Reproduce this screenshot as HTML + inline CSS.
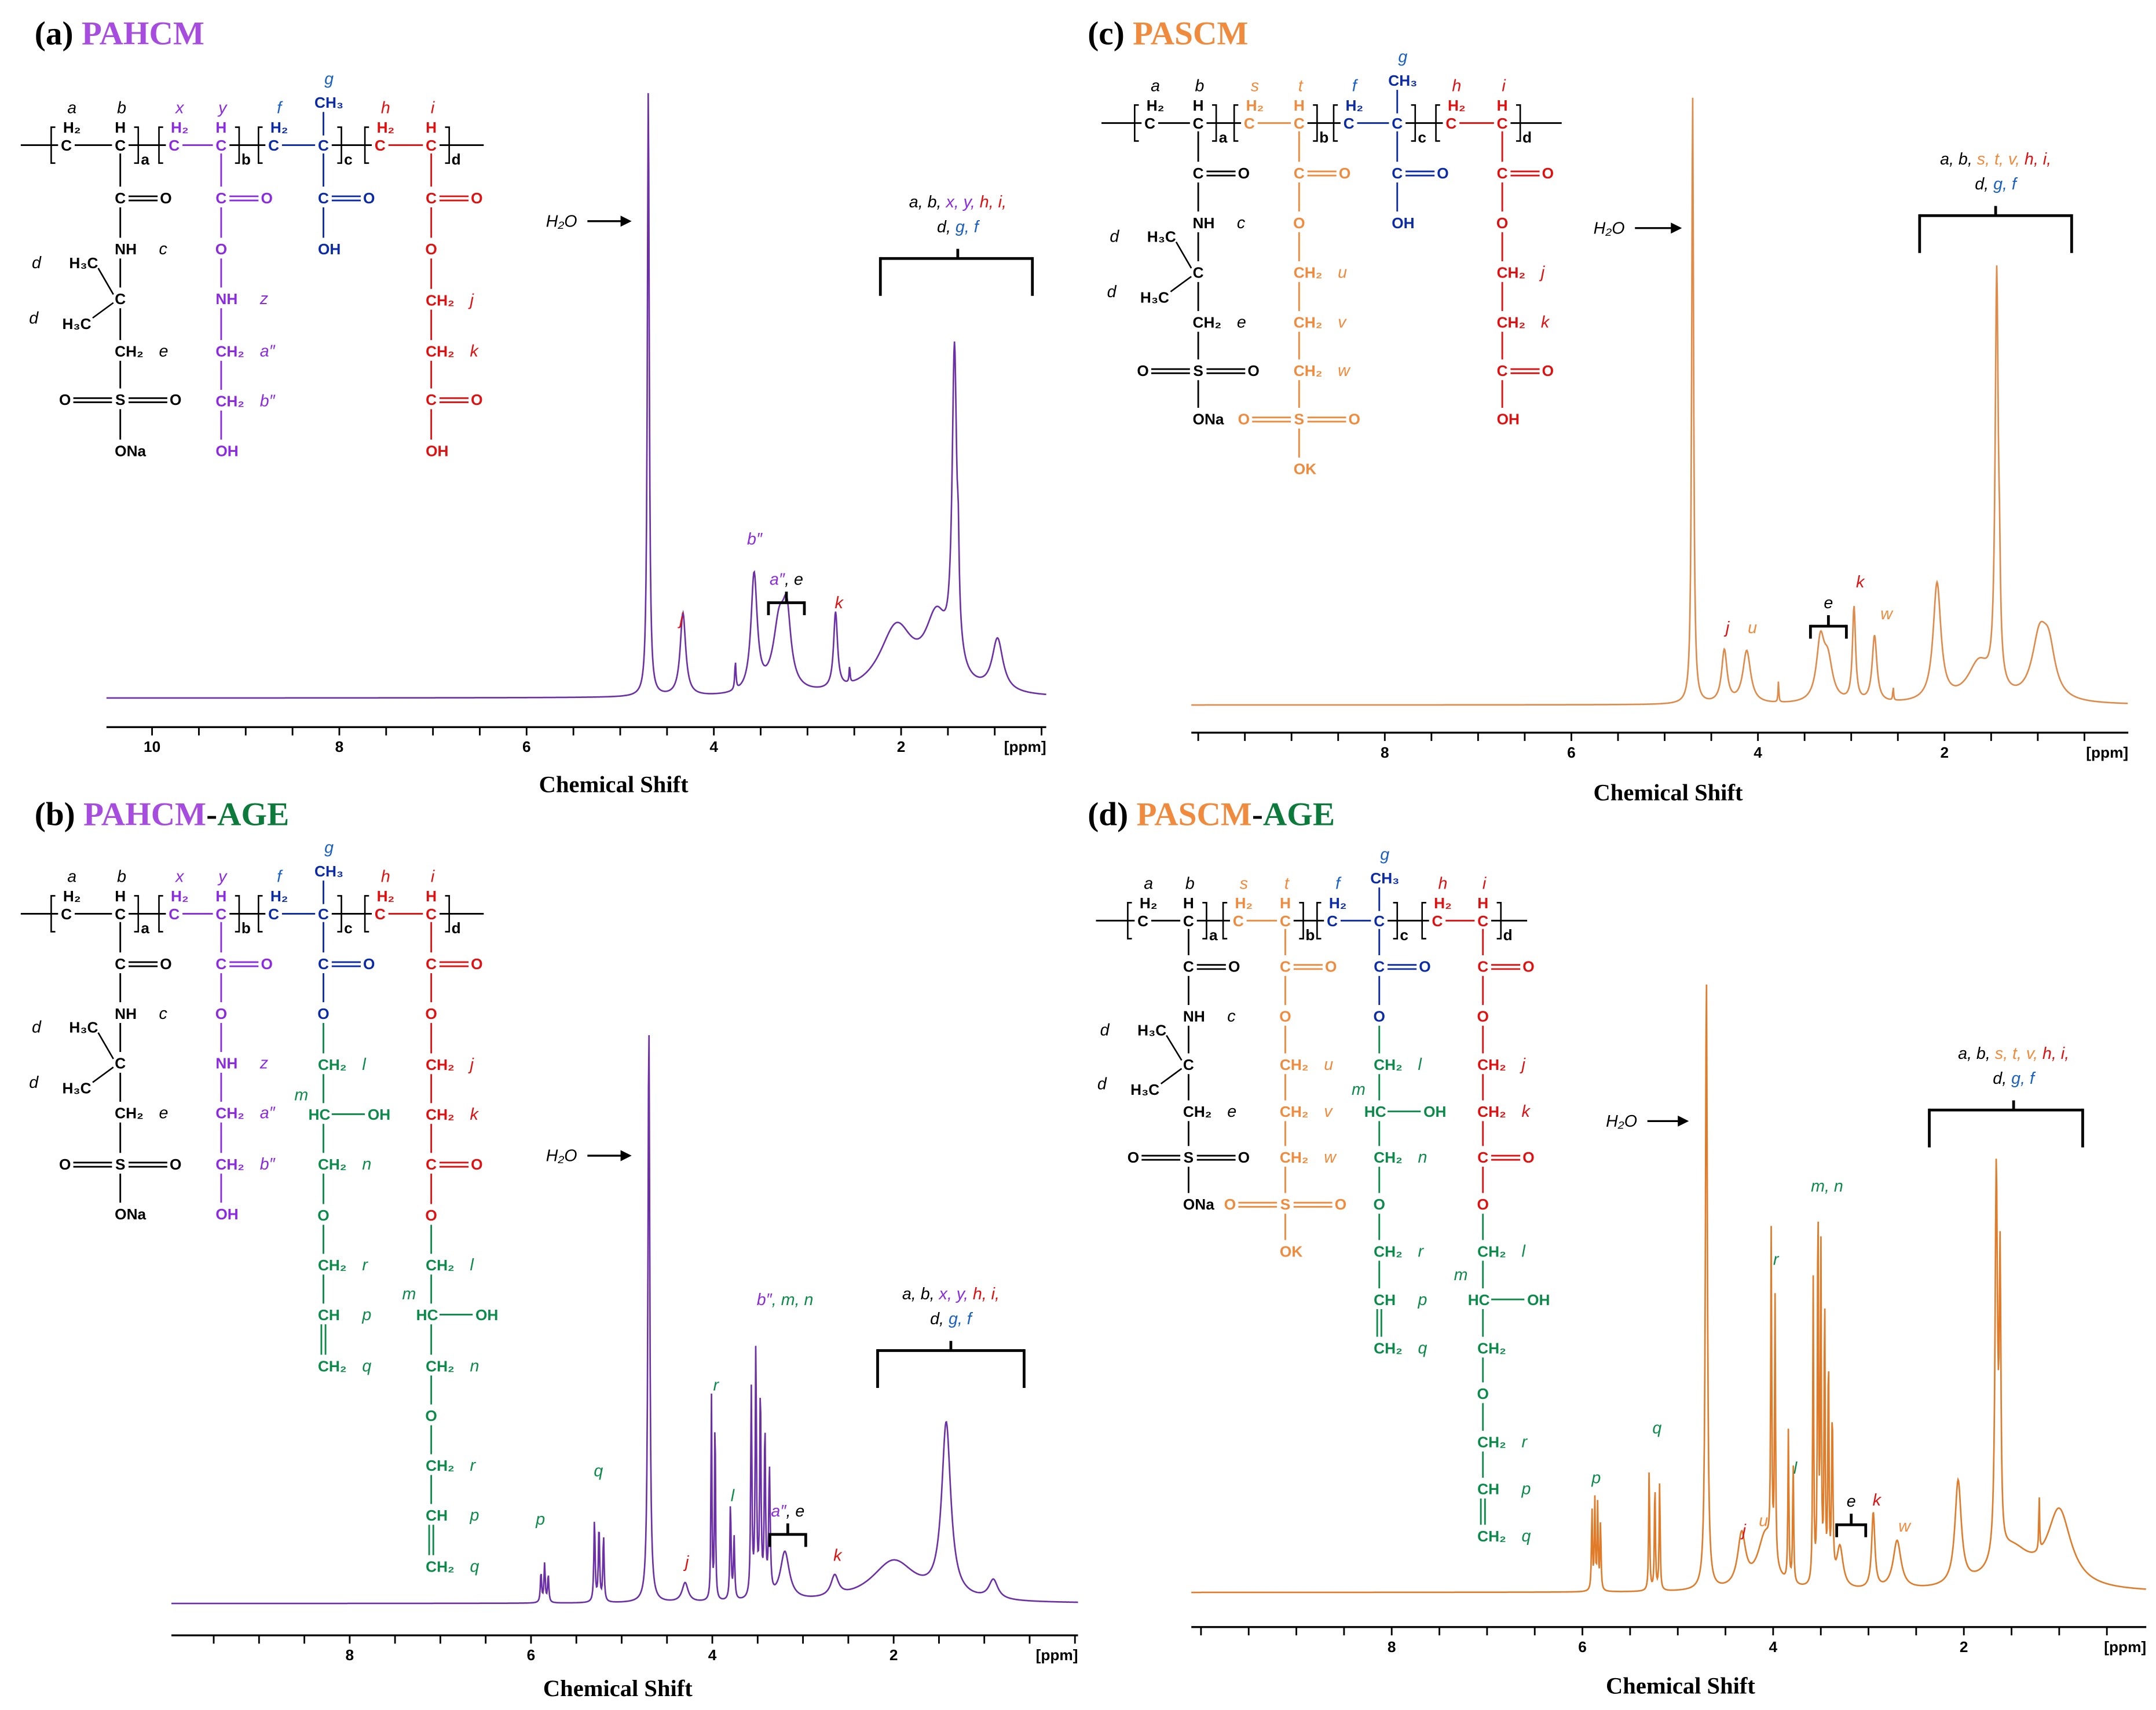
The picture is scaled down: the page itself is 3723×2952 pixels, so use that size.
<!DOCTYPE html>
<html><head><meta charset="utf-8"><style>
html,body{margin:0;padding:0;background:#fff;}
svg{display:block;}
.st{font-family:"Liberation Sans",sans-serif;font-size:11px;font-weight:bold;}
.lb{font-family:"Liberation Sans",sans-serif;font-size:12px;font-style:italic;}
.tk{font-family:"Liberation Sans",sans-serif;font-size:11px;font-weight:bold;}
.ttl{font-family:"Liberation Serif",serif;font-size:24px;font-weight:bold;}
.ax{font-family:"Liberation Serif",serif;font-size:17px;font-weight:bold;}
</style></head><body>
<svg id="fig" width="3723" height="2952" viewBox="0 0 1560 1237" xmlns="http://www.w3.org/2000/svg">
<rect width="1560" height="1237" fill="#fff"/>
<text class="ttl" x="25" y="32">(a) <tspan fill="#a64de0">PAHCM</tspan></text>
<text class="ttl" x="25" y="597">(b) <tspan fill="#a64de0">PAHCM</tspan>-<tspan fill="#0b7a3a">AGE</tspan></text>
<text class="ttl" x="787" y="32">(c) <tspan fill="#f08a3c">PASCM</tspan></text>
<text class="ttl" x="787" y="597">(d) <tspan fill="#f08a3c">PASCM</tspan>-<tspan fill="#0b7a3a">AGE</tspan></text>
</svg>
<script>
const NS="http://www.w3.org/2000/svg";
const svg=document.getElementById('fig');
function mk(tag,attrs,parent){const e=document.createElementNS(NS,tag);for(const k in attrs)e.setAttribute(k,attrs[k]);(parent||svg).appendChild(e);return e;}
function txt(x,y,s,cls,fill,anchor,parent){const t=mk('text',{x:x,y:y,class:cls,fill:fill||'#000','text-anchor':anchor||'middle'},parent);t.textContent=s;return t;}
function ln(x1,y1,x2,y2,c,parent,w){return mk('line',{x1:x1,y1:y1,x2:x2,y2:y2,stroke:c,'stroke-width':w||1.2},parent);}

// ===== Spectrum data (ppm centres, intensities, half-widths in ppm) =====
const aPpm=[4.70,4.33,3.77,3.57,3.30,3.22,2.70,2.55,2.05,1.62,1.43,1.39,0.97];
const aInt=[440,60,20,85,50,45,55,12,48,50,230,40,38];
const aWid=[0.012,0.035,0.008,0.04,0.08,0.05,0.025,0.006,0.22,0.15,0.03,0.01,0.07];
const bPpm=[5.89,5.85,5.81,5.30,5.25,5.20,4.70,4.30,4.01,3.97,3.80,3.76,3.57,3.52,3.47,3.42,3.37,3.20,2.65,2.0,1.42,0.9];
const bInt=[22,28,20,60,55,48,420,14,150,140,70,45,150,180,150,120,90,35,15,30,125,14];
const bWid=[0.008,0.008,0.008,0.008,0.008,0.008,0.012,0.04,0.006,0.006,0.008,0.008,0.008,0.008,0.008,0.008,0.01,0.06,0.05,0.3,0.06,0.06];
const cPpm=[4.70,4.36,4.12,3.78,3.33,3.25,2.97,2.75,2.55,2.08,1.63,1.44,1.41,0.98,0.88];
const cInt=[440,38,38,15,42,28,68,48,10,85,28,300,40,45,30];
const cWid=[0.012,0.035,0.05,0.005,0.05,0.06,0.02,0.03,0.005,0.05,0.15,0.02,0.01,0.1,0.08];
const dPpm=[5.90,5.87,5.84,5.81,5.30,5.24,5.19,4.70,4.33,4.08,4.02,3.98,3.84,3.79,3.58,3.53,3.50,3.46,3.42,3.38,3.30,2.95,2.70,2.06,1.5,1.66,1.62,1.21,1.0];
const dInt=[60,65,62,50,90,80,80,444,38,40,230,190,110,90,220,290,250,210,170,120,30,55,35,75,28,280,200,40,55];
const dWid=[0.006,0.006,0.006,0.006,0.006,0.006,0.006,0.012,0.05,0.1,0.006,0.006,0.006,0.006,0.006,0.006,0.006,0.006,0.006,0.008,0.04,0.02,0.05,0.04,0.25,0.015,0.01,0.005,0.15];
// axis tick labels
const tickLabelsA=['10','8','6','4','2'];
const tickLabelsB=['8','6','4','2'];

function panelAxis(g,xOf,y,ppmL,ppmR,labels,px0,px1){
  ln(px0,y,px1,y,'#000',g,1.4);
  for(let p=Math.floor(ppmL*2)/2;p>=ppmR;p-=0.5){const x=xOf(p);if(x<px0||x>px1)continue;ln(x,y,x,y+6,'#000',g,1.2);}
  labels.forEach(s=>{const t=txt(xOf(+s),y+18,s,'tk','#000','middle',g);});
  const u=txt(px1,y+18,'[ppm]','tk','#000','end',g);
  
}
function spectrum(g,xOf,ppmOf,base,px0,px1,P,I,W,color,name){
  let d='';
  for(let x=px0;x<=px1;x+=0.4){const p=ppmOf(x);let v=0;for(let i=0;i<P.length;i++){const z=(p-P[i])/W[i];v+=I[i]/(1+z*z);}d+=(d?'L':'M')+x.toFixed(2)+' '+(base-v).toFixed(2);}
  const path=mk('path',{d:d,fill:'none',stroke:color,'stroke-width':1.1},g);
  
  
}
function bigBracket(g,cx,x0,x1,y,l1,l2){
  ln(x0,y,x1,y,'#000',g,2);ln(x0,y-1,x0,y+27,'#000',g,2);ln(x1,y-1,x1,y+27,'#000',g,2);ln(cx,y,cx,y-7,'#000',g,2);
  const t1=mk('text',{x:cx,y:y-37,class:'lb','text-anchor':'middle'},g);t1.innerHTML=l1;
  const t2=mk('text',{x:cx,y:y-19,class:'lb','text-anchor':'middle'},g);t2.innerHTML=l2;
}
function smallBracket(g,x0,x1,y,lab){
  ln(x0,y,x1,y,'#000',g,2);ln(x0,y-1,x0,y+9,'#000',g,2);ln(x1,y-1,x1,y+9,'#000',g,2);ln((x0+x1)/2,y,(x0+x1)/2,y-8,'#000',g,2);
  const t=mk('text',{x:(x0+x1)/2,y:y-13,class:'lb','text-anchor':'middle'},g);t.innerHTML=lab;
}
function h2o(g,x,y,x2){txt(x,y,'H₂O','lb','#000','start',g).setAttribute('font-style','normal');ln(x+30,y-4,x2-5,y-4,'#000',g,1.4);mk('path',{d:`M${x2} ${y-4} L${x2-8} ${y-8} L${x2-8} ${y} Z`,fill:'#000'},g);}
function plab(g,x,y,s,c){const t=mk('text',{x:x,y:y,class:'lb',fill:c,'text-anchor':'middle'},g);t.innerHTML=s;}

const PU='#8a2be2',OR='#f08a3c',BL='#1a5fc4',RD='#e01010',GR='#0b8a4a';

// ===== Panel A =====
const gA=mk('g',{});
{const xOf=p=>110+(10-p)*67.75, ppmOf=x=>10-(x-110)/67.75;
 spectrum(gA,xOf,ppmOf,505,77,757,aPpm,aInt,aWid,'#6b2fa8','spectrum-line-a');
 panelAxis(gA,xOf,526,10.5,0.4,tickLabelsA,77,757);
 txt(444,573,'Chemical Shift','ax','#000','middle',gA);
 h2o(gA,395,164,457);
 bigBracket(gA,693,637,747,187,'a, b, <tspan fill="'+PU+'">x, y,</tspan> <tspan fill="'+RD+'">h, i,</tspan>','d, <tspan fill="'+BL+'">g, f</tspan>');
 smallBracket(gA,556,582,436,'<tspan fill="'+PU+'">a″</tspan>, e');
 plab(gA,493,452,'j',RD);plab(gA,546,394,'b″',PU);plab(gA,607,440,'k',RD);}
// ===== Panel B =====
const gB=mk('g',{});
{const xOf=p=>253+(8-p)*65.6, ppmOf=x=>8-(x-253)/65.6;
 spectrum(gB,xOf,ppmOf,1160,124,780,bPpm,bInt,bWid,'#6b2fa8','spectrum-line-b');
 panelAxis(gB,xOf,1183,10,0,tickLabelsB,124,780);
 txt(447,1227,'Chemical Shift','ax','#000','middle',gB);
 h2o(gB,395,840,457);
 bigBracket(gB,688,635,741,977,'a, b, <tspan fill="'+PU+'">x, y,</tspan> <tspan fill="'+RD+'">h, i,</tspan>','d, <tspan fill="'+BL+'">g, f</tspan>');
 smallBracket(gB,557,583,1110,'<tspan fill="'+PU+'">a″</tspan>, e');
 plab(gB,391,1103,'p',GR);plab(gB,433,1068,'q',GR);plab(gB,497,1134,'j',RD);plab(gB,518,1006,'r',GR);plab(gB,530,1086,'l',GR);
 plab(gB,568,944,'<tspan fill="'+PU+'">b″</tspan><tspan fill="'+GR+'">, m, n</tspan>','#000');plab(gB,606,1129,'k',RD);}
// ===== Panel C =====
const gC=mk('g',{});
{const xOf=p=>1002+(8-p)*67.5, ppmOf=x=>8-(x-1002)/67.5;
 spectrum(gC,xOf,ppmOf,510,862,1540,cPpm,cInt,cWid,'#e08a4a','spectrum-line-c');
 panelAxis(gC,xOf,530,10,0,tickLabelsB,862,1540);
 txt(1207,579,'Chemical Shift','ax','#000','middle',gC);
 h2o(gC,1153,169,1217);
 bigBracket(gC,1444,1389,1499,156,'a, b, <tspan fill="'+OR+'">s, t, v,</tspan> <tspan fill="'+RD+'">h, i,</tspan>','d, <tspan fill="'+BL+'">g, f</tspan>');
 smallBracket(gC,1310,1336,453,'e');
 plab(gC,1250,458,'j',RD);plab(gC,1268,458,'u',OR);plab(gC,1346,425,'k',RD);plab(gC,1365,448,'w',OR);}
// ===== Panel D =====
const gD=mk('g',{});
{const xOf=p=>1007+(8-p)*69, ppmOf=x=>8-(x-1007)/69;
 spectrum(gD,xOf,ppmOf,1152,862,1553,dPpm,dInt,dWid,'#e07b2a','spectrum-line-d');
 panelAxis(gD,xOf,1177,10,0,tickLabelsB,862,1553);
 txt(1216,1225,'Chemical Shift','ax','#000','middle',gD);
 h2o(gD,1162,815,1222);
 bigBracket(gD,1457,1396,1507,803,'a, b, <tspan fill="'+OR+'">s, t, v,</tspan> <tspan fill="'+RD+'">h, i,</tspan>','d, <tspan fill="'+BL+'">g, f</tspan>');
 smallBracket(gD,1329,1350,1103,'e');
 plab(gD,1155,1073,'p',GR);plab(gD,1199,1037,'q',GR);plab(gD,1262,1111,'j',RD);plab(gD,1276,1104,'u',OR);plab(gD,1285,915,'r',GR);
 plab(gD,1299,1066,'l',GR);plab(gD,1322,862,'m, n',GR);plab(gD,1358,1089,'k',RD);plab(gD,1378,1108,'w',OR);}

// ===== Chemical structures =====
function row(g,x,y,kind,c,lab,lc){
  switch(kind){
   case 'C=O': txt(x,y+4,'C','st',c,'middle',g);ln(x+6,y-1,x+27,y-1,c,g);ln(x+6,y+2,x+27,y+2,c,g);txt(x+33,y+4,'O','st',c,'middle',g);break;
   case 'OSO': txt(x-40,y+4,'O','st',c,'middle',g);ln(x-34,y-1,x-6,y-1,c,g);ln(x-34,y+2,x-6,y+2,c,g);txt(x,y+4,'S','st',c,'middle',g);ln(x+6,y-1,x+34,y-1,c,g);ln(x+6,y+2,x+34,y+2,c,g);txt(x+40,y+4,'O','st',c,'middle',g);break;
   case 'HCOH': txt(x+5,y+4,'HC','st',c,'end',g);ln(x+6,y,x+30,y,c,g);txt(x+32,y+4,'OH','st',c,'start',g);break;
   case 'CH2': case 'CH2q': txt(x-4,y+4,'CH₂','st',c,'start',g);break;
   case 'CH': txt(x-4,y+4,'CH','st',c,'start',g);break;
   case 'NH': txt(x-4,y+4,'NH','st',c,'start',g);break;
   case 'ONa': txt(x-4,y+4,'ONa','st',c,'start',g);break;
   case 'OH': txt(x-4,y+4,'OH','st',c,'start',g);break;
   case 'OK': txt(x-4,y+4,'OK','st',c,'start',g);break;
   default: txt(x,y+4,kind,'st',c,'middle',g);
  }
  if(lab){const lx=kind==='C=O'?x+52:x+28;txt(lx,y+4,lab,'lb',lc||c,'start',g);}
}
function struct(name,S){
  const g=mk('g',{});
  const by=S.by;
  // backbone segments between atoms (gaps around letters)
  let prev=S.x0;
  S.units.forEach(u=>{
    ln(prev,by,u.xa-6,by,'#000',g,1.2);
    ln(u.xa+6,by,u.xb-6,by,u.c,g,1.2);
    prev=u.xb+6;
  });
  ln(prev,by,S.x1,by,'#000',g,1.2);
  S.units.forEach(u=>{
    txt(u.xa,by+4,'C','st',u.c,'middle',g);txt(u.xb,by+4,'C','st',u.c,'middle',g);
    txt(u.xa+4,by-9,'H₂','st',u.c,'middle',g);
    if(u.ch3){ln(u.xb,by-7,u.xb,by-24,u.c,g);txt(u.xb+4,by-27,'CH₃','st',u.c,'middle',g);txt(u.xb+4,by-44,u.lb,'lb',u.lc,'middle',g);}
    else{txt(u.xb,by-9,'H','st',u.c,'middle',g);txt(u.xb+1,by-23,u.lb,'lb',u.lc,'middle',g);}
    txt(u.xa+4,by-23,u.la,'lb',u.lc,'middle',g);
    const L=u.xa-11,R=u.xb+13;
    mk('path',{d:`M${L+3} ${by-13}H${L}V${by+13}H${L+3}`,fill:'none',stroke:'#000','stroke-width':1.1},g);
    mk('path',{d:`M${R-3} ${by-13}H${R}V${by+13}H${R-3}`,fill:'none',stroke:'#000','stroke-width':1.1},g);
    txt(R+5,by+14,u.sub,'st','#000','middle',g);
  });
  S.cols.forEach(col=>{
    let py=by;
    col.rows.forEach((r,i)=>{
      const [y,kind,c,lab,lc]=r;
      const top=py+(i===0?6:7), bot=y-8;
      if(kind==='CH2q'){ln(col.x-1.5,top,col.x-1.5,bot,c,g);ln(col.x+1.5,top,col.x+1.5,bot,c,g);}
      else ln(col.x,top,col.x,bot,c,g);
      row(g,col.x,y,kind,c,lab,lc);py=y;
    });
  });
  (S.extra||[]).forEach(e=>{ if(e[0]==='line')ln(e[1],e[2],e[3],e[4],e[5]||'#000',g,1.1); else txt(e[1],e[2],e[3],e[4],e[5],e[6]||'start',g);});
}
const K='#000',BD='#0a2aa8',P2='#8a2be2';
function blackCol(x,r){return {x:x,rows:[[r[0],'C=O',K],[r[1],'NH',K,'c'],[r[2],'C',K],[r[3],'CH2',K,'e'],[r[4],'OSO',K],[r[5],'ONa',K]]};}
function methyls(x,yN,yC,yE){return [['t',x-37,yN+14,'H₃C','st',K],['t',x-64,yN+14,'d','lb',K],['t',x-42,yC+22,'H₃C','st',K],['t',x-66,yC+18,'d','lb',K],['line',x-16,yN+14,x-5,yC-3],['line',x-20,yC+14,x-5,yC+3]];}
// A
struct('structure-a',{by:105,x0:15,x1:350,units:[
 {xa:48,xb:87,c:K,lc:K,la:'a',lb:'b',sub:'a'},{xa:126,xb:160,c:P2,lc:P2,la:'x',lb:'y',sub:'b'},
 {xa:198,xb:234,c:BD,lc:BL,la:'f',lb:'g',sub:'c',ch3:1},{xa:275,xb:312,c:RD,lc:RD,la:'h',lb:'i',sub:'d'}],
 cols:[blackCol(87,[143,180,216,254,289,326]),
  {x:160,rows:[[143,'C=O',P2],[180,'O',P2],[216,'NH',P2,'z'],[254,'CH2',P2,'a″'],[290,'CH2',P2,'b″'],[326,'OH',P2]]},
  {x:234,rows:[[143,'C=O',BD],[180,'OH',BD]]},
  {x:312,rows:[[143,'C=O',RD],[180,'O',RD],[217,'CH2',RD,'j'],[254,'CH2',RD,'k'],[289,'C=O',RD],[326,'OH',RD]]}],
 extra:methyls(87,180,216,254)});
// B
struct('structure-b',{by:661,x0:15,x1:350,units:[
 {xa:48,xb:87,c:K,lc:K,la:'a',lb:'b',sub:'a'},{xa:126,xb:160,c:P2,lc:P2,la:'x',lb:'y',sub:'b'},
 {xa:198,xb:234,c:BD,lc:BL,la:'f',lb:'g',sub:'c',ch3:1},{xa:275,xb:312,c:RD,lc:RD,la:'h',lb:'i',sub:'d'}],
 cols:[blackCol(87,[697,733,769,805,842,878]),
  {x:160,rows:[[697,'C=O',P2],[733,'O',P2],[769,'NH',P2,'z'],[805,'CH2',P2,'a″'],[842,'CH2',P2,'b″'],[878,'OH',P2]]},
  {x:234,rows:[[697,'C=O',BD],[733,'O',BD],[770,'CH2',GR,'l'],[806,'HCOH',GR],[842,'CH2',GR,'n'],[879,'O',GR],[915,'CH2',GR,'r'],[951,'CH',GR,'p'],[988,'CH2q',GR,'q']]},
  {x:312,rows:[[697,'C=O',RD],[733,'O',RD],[770,'CH2',RD,'j'],[806,'CH2',RD,'k'],[842,'C=O',RD],[879,'O',RD],[915,'CH2',GR,'l'],[951,'HCOH',GR],[988,'CH2',GR,'n'],[1024,'O',GR],[1060,'CH2',GR,'r'],[1096,'CH',GR,'p'],[1133,'CH2q',GR,'q']]}],
 extra:methyls(87,733,769,805).concat([['t',213,796,'m','lb',GR],['t',291,940,'m','lb',GR]])});
// C
struct('structure-c',{by:89,x0:797,x1:1130,units:[
 {xa:832,xb:867,c:K,lc:K,la:'a',lb:'b',sub:'a'},{xa:904,xb:940,c:OR,lc:OR,la:'s',lb:'t',sub:'b'},
 {xa:976,xb:1011,c:BD,lc:BL,la:'f',lb:'g',sub:'c',ch3:1},{xa:1050,xb:1087,c:RD,lc:RD,la:'h',lb:'i',sub:'d'}],
 cols:[blackCol(867,[125,161,197,233,268,303]),
  {x:940,rows:[[125,'C=O',OR],[161,'O',OR],[197,'CH2',OR,'u'],[233,'CH2',OR,'v'],[268,'CH2',OR,'w'],[303,'OSO',OR],[339,'OK',OR]]},
  {x:1011,rows:[[125,'C=O',BD],[161,'OH',BD]]},
  {x:1087,rows:[[125,'C=O',RD],[161,'O',RD],[197,'CH2',RD,'j'],[233,'CH2',RD,'k'],[268,'C=O',RD],[303,'OH',RD]]}],
 extra:methyls(867,161,197,233)});
// D
struct('structure-d',{by:666,x0:793,x1:1105,units:[
 {xa:827,xb:860,c:K,lc:K,la:'a',lb:'b',sub:'a'},{xa:896,xb:930,c:OR,lc:OR,la:'s',lb:'t',sub:'b'},
 {xa:964,xb:998,c:BD,lc:BL,la:'f',lb:'g',sub:'c',ch3:1},{xa:1040,xb:1073,c:RD,lc:RD,la:'h',lb:'i',sub:'d'}],
 cols:[blackCol(860,[699,735,770,804,837,871]),
  {x:930,rows:[[699,'C=O',OR],[735,'O',OR],[770,'CH2',OR,'u'],[804,'CH2',OR,'v'],[837,'CH2',OR,'w'],[871,'OSO',OR],[905,'OK',OR]]},
  {x:998,rows:[[699,'C=O',BD],[735,'O',BD],[770,'CH2',GR,'l'],[804,'HCOH',GR],[837,'CH2',GR,'n'],[871,'O',GR],[905,'CH2',GR,'r'],[940,'CH',GR,'p'],[975,'CH2q',GR,'q']]},
  {x:1073,rows:[[699,'C=O',RD],[735,'O',RD],[770,'CH2',RD,'j'],[804,'CH2',RD,'k'],[837,'C=O',RD],[871,'O',RD],[905,'CH2',GR,'l'],[940,'HCOH',GR],[975,'CH2',GR],[1008,'O',GR],[1043,'CH2',GR,'r'],[1077,'CH',GR,'p'],[1111,'CH2q',GR,'q']]}],
 extra:methyls(860,735,770,804).concat([['t',978,792,'m','lb',GR],['t',1052,926,'m','lb',GR]])});
</script>
</body></html>
